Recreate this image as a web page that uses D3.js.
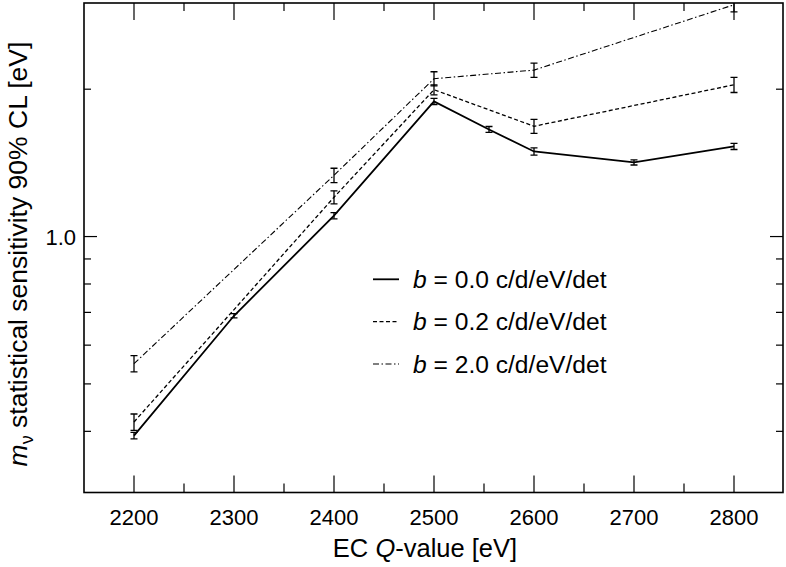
<!DOCTYPE html>
<html>
<head>
<meta charset="utf-8">
<script src="https://cdn.jsdelivr.net/npm/d3@7"></script>
<style>
  html, body { margin: 0; padding: 0; background: #fff; }
  svg { display: block; }
  text { font-family: "Liberation Sans", Arial, Helvetica, sans-serif; fill: #000; }
</style>
</head>
<body>
<svg id="chart" width="786" height="567"></svg>
<script>
// ---- data ----
const xTicksMajor = [2200, 2300, 2400, 2500, 2600, 2700, 2800];
const xTicksMinor = [2250, 2350, 2450, 2550, 2650, 2750];
const yTicksMajor = [1.0];
const yTicksMinor = [2.0, 0.9, 0.8, 0.7, 0.6, 0.5, 0.4];

// b = 0.0 c/d/eV/det (solid)
const q0 = [2200, 2300, 2400, 2500, 2555, 2600, 2700, 2800];
const m0 = [0.392, 0.689, 1.103, 1.888, 1.655, 1.492, 1.417, 1.528];
const e0 = [0.006, 0.007, 0.016, 0.027, 0.023, 0.025, 0.017, 0.022];
// b = 0.2 c/d/eV/det (dashed)
const q1 = [2200, 2400, 2500, 2600, 2800];
const m1 = [0.418, 1.203, 1.995, 1.680, 2.042];
const e1 = [0.016, 0.037, 0.047, 0.056, 0.073];
// b = 2.0 c/d/eV/det (dash-dot)
const q2 = [2200, 2400, 2500, 2600, 2800];
const m2 = [0.550, 1.334, 2.101, 2.188, 2.975];
const e2 = [0.021, 0.045, 0.070, 0.073, 0.098];

const legendLabels = ["0.0", "0.2", "2.0"];

// ---- layout ----
const L = 84, R = 783, T = 3, B = 492.5;
const svg = d3.select("#chart");

const x = d3.scaleLinear().domain([2150, 2850]).range([L, R + 1]);
const y = d3.scaleLog().domain([0.3, 3.0]).range([B, T]);

const styles = [
  { dash: null, width: 1.8 },
  { dash: "4,2.5", width: 1.3 },
  { dash: "6,2.5,1.5,2.5", width: 1.1 }
];

svg.append("defs").append("clipPath").attr("id", "plotclip")
  .append("rect").attr("x", L).attr("y", T).attr("width", R - L).attr("height", B - T);

const plot = svg.append("g").attr("clip-path", "url(#plotclip)");

const seriesList = [
  { q: q0, m: m0, e: e0 },
  { q: q1, m: m1, e: e1 },
  { q: q2, m: m2, e: e2 }
];

const line = d3.line().x(d => x(d.q)).y(d => y(d.m));

seriesList.forEach((s, i) => {
  const pts = s.q.map((q, j) => ({ q, m: s.m[j], e: s.e[j] }));
  plot.append("path")
    .datum(pts)
    .attr("d", line)
    .attr("fill", "none")
    .attr("stroke", "#000")
    .attr("stroke-width", styles[i].width)
    .attr("stroke-dasharray", styles[i].dash);
  const eb = plot.append("g").attr("stroke", "#000").attr("stroke-width", 1.3);
  pts.forEach(p => {
    const cx = x(p.q), y1 = y(p.m - p.e), y2 = y(p.m + p.e);
    eb.append("line").attr("x1", cx).attr("x2", cx).attr("y1", y1).attr("y2", y2);
    eb.append("line").attr("x1", cx - 3.5).attr("x2", cx + 3.5).attr("y1", y1).attr("y2", y1);
    eb.append("line").attr("x1", cx - 3.5).attr("x2", cx + 3.5).attr("y1", y2).attr("y2", y2);
  });
});

// ---- axes (ticks inward on all four sides) ----
const axG = svg.append("g").attr("stroke", "#000").attr("stroke-width", 1.2);
function tickLines(vals, len, side) {
  vals.forEach(v => {
    if (side === "bottom") axG.append("line").attr("x1", x(v)).attr("x2", x(v)).attr("y1", B).attr("y2", B - len);
    if (side === "top") axG.append("line").attr("x1", x(v)).attr("x2", x(v)).attr("y1", T).attr("y2", T + len);
    if (side === "left") axG.append("line").attr("x1", L).attr("x2", L + len).attr("y1", y(v)).attr("y2", y(v));
    if (side === "right") axG.append("line").attr("x1", R).attr("x2", R - len).attr("y1", y(v)).attr("y2", y(v));
  });
}
tickLines(xTicksMajor, 17, "bottom");
tickLines(xTicksMinor, 9, "bottom");
tickLines(xTicksMajor, 17, "top");
tickLines(xTicksMinor, 8, "top");
tickLines(yTicksMajor, 13, "left");
tickLines(yTicksMinor, 7, "left");
tickLines(yTicksMajor, 13, "right");
tickLines(yTicksMinor, 7, "right");

svg.append("rect").attr("x", L).attr("y", T).attr("width", R - L).attr("height", B - T)
  .attr("fill", "none").attr("stroke", "#000").attr("stroke-width", 1.6);

// tick labels
svg.append("g").selectAll("text").data(xTicksMajor).join("text")
  .attr("x", d => x(d)).attr("y", 525)
  .attr("text-anchor", "middle")
  .attr("font-size", 22)
  .text(d => d);

svg.append("g").selectAll("text").data(yTicksMajor).join("text")
  .attr("x", 76).attr("y", d => y(d) + 8)
  .attr("text-anchor", "end")
  .attr("font-size", 22)
  .text(d => d3.format(".1f")(d));

// axis titles
const xt = svg.append("text").attr("x", 425).attr("y", 557).attr("text-anchor", "middle").attr("font-size", 25.5);
xt.append("tspan").text("EC ");
xt.append("tspan").attr("font-style", "italic").text("Q");
xt.append("tspan").text("-value [eV]");

const yt = svg.append("text")
  .attr("transform", "translate(27,254) rotate(-90)")
  .attr("text-anchor", "middle").attr("font-size", 26.5);
yt.append("tspan").attr("font-style", "italic").text("m");
yt.append("tspan").attr("font-size", 18).attr("dy", 6).text("ν");
yt.append("tspan").attr("dy", -6).text(" statistical sensitivity 90% CL [eV]");

// legend
const legRows = [279.3, 321.7, 364];
legendLabels.forEach((lab, i) => {
  svg.append("line")
    .attr("x1", 373).attr("x2", 399).attr("y1", legRows[i]).attr("y2", legRows[i])
    .attr("stroke", "#000").attr("stroke-width", styles[i].width)
    .attr("stroke-dasharray", styles[i].dash);
  const t = svg.append("text").attr("x", 413).attr("y", legRows[i] + 8.5).attr("font-size", 24.6);
  t.append("tspan").attr("font-style", "italic").text("b");
  t.append("tspan").text(" = " + lab + " c/d/eV/det");
});
</script>
</body>
</html>
